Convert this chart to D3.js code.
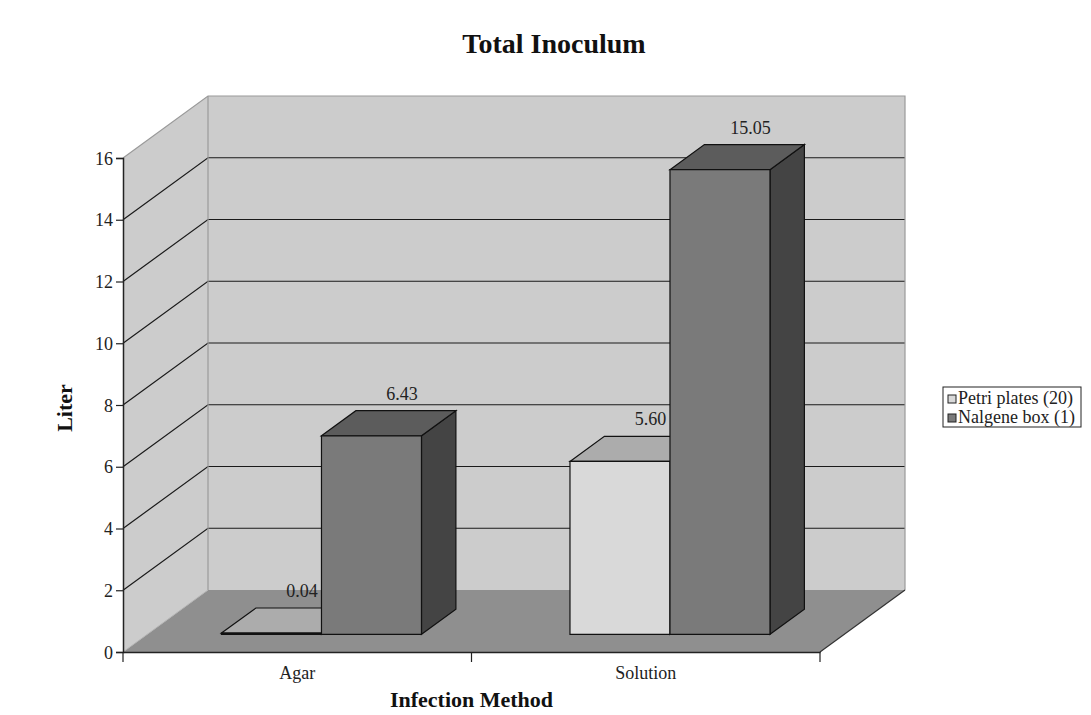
<!DOCTYPE html>
<html><head><meta charset="utf-8">
<script src="https://cdn.jsdelivr.net/npm/d3@7"></script>
<style>body{margin:0;background:#fff}svg{display:block}text{font-family:"Liberation Serif","Times New Roman",serif}</style>
</head><body><svg id="c" width="1091" height="715"></svg>
<script>
const categories = ["Agar", "Solution"];
const seriesNames = ["Petri plates (20)", "Nalgene box (1)"];
const petriValues = [0.04, 5.60];
const nalgeneValues = [6.43, 15.05];
const valueLabels = [["0.04", "5.60"], ["6.43", "15.05"]];
const yTicks = [0, 2, 4, 6, 8, 10, 12, 14, 16];

(function () {
const seriesValues = [petriValues, nalgeneValues];
const colors = [
  {front: "#d9d9d9", top: "#acacac", side: "#8a8a8a"},
  {front: "#7a7a7a", top: "#5c5c5c", side: "#444444"}
];

const svg = d3.select("#c");
const plotLeft = 123, plotRight = 820, plotBottom = 652, plotTop = 158;
const depth = {dx: 85, dy: -62};
const barZ0 = 0.285, barZ1 = 0.69;

const y = d3.scaleLinear().domain([0, 16]).range([plotBottom, plotTop]);
const x0 = d3.scaleBand().domain(categories).range([plotLeft, plotRight]).paddingInner(0).paddingOuter(0);
const x1 = d3.scaleBand().domain(seriesNames).range([0, x0.bandwidth()]).paddingInner(0).paddingOuter(0.7425);

const P = (x, yy, z) => [x + depth.dx * z, yy + depth.dy * z];
const poly = pts => "M" + pts.map(p => p.join(",")).join("L") + "Z";

svg.append("path").attr("d", poly([P(plotLeft, y(0), 1), P(plotLeft, y(16), 1), P(plotRight, y(16), 1), P(plotRight, y(0), 1)]))
  .attr("fill", "#cccccc");
svg.append("path").attr("d", poly([P(plotLeft, y(0), 0), P(plotLeft, y(16), 0), P(plotLeft, y(16), 1), P(plotLeft, y(0), 1)]))
  .attr("fill", "#cccccc");
svg.append("path").attr("d", poly([P(plotLeft, y(0), 0), P(plotLeft, y(0), 1), P(plotRight, y(0), 1), P(plotRight, y(0), 0)]))
  .attr("fill", "#8f8f8f");

yTicks.forEach(t => {
  if (t === 0 || t === 16) return;
  const a = P(plotLeft, y(t), 0), b = P(plotLeft, y(t), 1), c = P(plotRight, y(t), 1);
  svg.append("path").attr("d", `M${a}L${b}L${c}`).attr("fill", "none").attr("stroke", "#1a1a1a").attr("stroke-width", 1.2);
});
{
  const a = P(plotLeft, y(16), 0), b = P(plotLeft, y(16), 1), c = P(plotRight, y(16), 1), d = P(plotRight, y(0), 1), e = P(plotLeft, y(0), 1), f = P(plotLeft, y(0), 0);
  svg.append("path").attr("d", `M${a}L${b}L${c}L${d}`).attr("fill", "none").attr("stroke", "#9a9a9a").attr("stroke-width", 1.2);
  svg.append("path").attr("d", `M${b}L${e}`).attr("fill", "none").attr("stroke", "#9a9a9a").attr("stroke-width", 1.2);
  svg.append("path").attr("d", `M${f}L${e}`).attr("fill", "none").attr("stroke", "#b5b5b5").attr("stroke-width", 1);
  const g = P(plotRight, y(0), 0);
  svg.append("path").attr("d", `M${g}L${d}`).attr("fill", "none").attr("stroke", "#333").attr("stroke-width", 1.2);
}

const bars = [];
categories.forEach((cat, ci) => {
  seriesNames.forEach((s, si) => {
    bars.push({cat, s, ci, si, v: seriesValues[si][ci], label: valueLabels[si][ci]});
  });
});
const barG = svg.append("g");
bars.forEach(b => {
  const xl = x0(b.cat) + x1(b.s), xr = xl + x1.bandwidth();
  const y0 = y(0), yv = y(b.v);
  const c = colors[b.si];
  const g = barG.append("g").attr("stroke", "#111").attr("stroke-width", 1.2).attr("stroke-linejoin", "miter");
  g.append("path").attr("d", poly([P(xr, y0, barZ0), P(xr, yv, barZ0), P(xr, yv, barZ1), P(xr, y0, barZ1)])).attr("fill", c.side);
  g.append("path").attr("d", poly([P(xl, yv, barZ0), P(xl, yv, barZ1), P(xr, yv, barZ1), P(xr, yv, barZ0)])).attr("fill", c.top);
  g.append("path").attr("d", poly([P(xl, y0, barZ0), P(xl, yv, barZ0), P(xr, yv, barZ0), P(xr, y0, barZ0)])).attr("fill", c.front);
});
bars.forEach(b => {
  const xl = x0(b.cat) + x1(b.s), xc = xl + x1.bandwidth() / 2;
  const p = P(xc, y(b.v), barZ1);
  svg.append("text").attr("x", p[0] - 4).attr("y", p[1] - 11).attr("text-anchor", "middle")
    .attr("font-size", 18).attr("fill", "#222").text(b.label);
});

const yAxis = svg.append("g").attr("transform", `translate(${plotLeft},0)`)
  .call(d3.axisLeft(y).tickValues(yTicks).tickFormat(d3.format("d")).tickSize(7).tickPadding(3));
yAxis.attr("font-family", null).attr("font-size", null);
yAxis.select(".domain").attr("stroke", "#222").attr("stroke-width", 1.5);
yAxis.selectAll(".tick line").attr("stroke", "#222").attr("stroke-width", 1.2);
yAxis.selectAll(".tick text").attr("font-size", 18).attr("fill", "#222").attr("dy", "0.34em");

const xAxis = svg.append("g").attr("transform", `translate(0,${plotBottom})`)
  .call(d3.axisBottom(x0).tickSize(0).tickPadding(14));
xAxis.attr("font-family", null).attr("font-size", null);
xAxis.select(".domain").attr("stroke", "#222").attr("stroke-width", 1.5);
xAxis.selectAll(".tick text").attr("font-size", 18).attr("fill", "#222");
const edges = [plotLeft, ...categories.slice(1).map(c => x0(c)), plotRight];
edges.forEach(ex => svg.append("line").attr("x1", ex).attr("x2", ex).attr("y1", plotBottom).attr("y2", plotBottom + 10).attr("stroke", "#222").attr("stroke-width", 1.2));

svg.append("text").attr("x", 554).attr("y", 53).attr("text-anchor", "middle").attr("font-size", 28).attr("font-weight", "bold").attr("fill", "#111").text("Total Inoculum");
svg.append("text").attr("x", (plotLeft + plotRight) / 2).attr("y", 707).attr("text-anchor", "middle").attr("font-size", 22).attr("font-weight", "bold").attr("fill", "#111").text("Infection Method");
svg.append("text").attr("transform", "translate(72,408) rotate(-90)").attr("text-anchor", "middle").attr("font-size", 22).attr("font-weight", "bold").attr("fill", "#111").text("Liter");

const lg = svg.append("g").attr("transform", "translate(943,387)");
lg.append("rect").attr("x", 0).attr("y", 0).attr("width", 138).attr("height", 40).attr("fill", "#fff").attr("stroke", "#222").attr("stroke-width", 1);
seriesNames.forEach((s, i) => {
  lg.append("rect").attr("x", 5).attr("y", 8 + i * 19).attr("width", 8).attr("height", 8).attr("fill", colors[i].front).attr("stroke", "#222").attr("stroke-width", 1);
  lg.append("text").attr("x", 15).attr("y", 17 + i * 19).attr("font-size", 18).attr("fill", "#222").text(s);
});
})();
</script></body></html>
